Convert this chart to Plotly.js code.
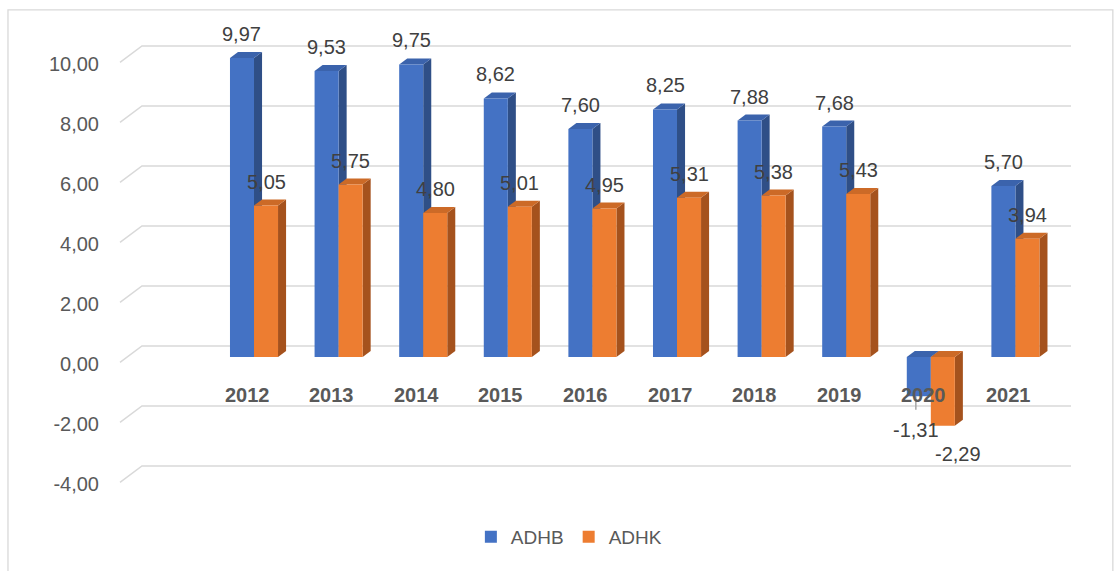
<!DOCTYPE html>
<html>
<head>
<meta charset="utf-8">
<script src="https://cdn.plot.ly/plotly-3.0.1.min.js"></script>
<style>
  html, body { margin: 0; padding: 0; background: #ffffff; }
  #chart { width: 1114px; height: 571px; }
</style>
</head>
<body>
<div id="chart"></div>
<script>
const years = ["2012", "2013", "2014", "2015", "2016", "2017", "2018", "2019", "2020", "2021"];
const adhb = [9.97, 9.53, 9.75, 8.62, 7.60, 8.25, 7.88, 7.68, -1.31, 5.70];
const adhk = [5.05, 5.75, 4.80, 5.01, 4.95, 5.31, 5.38, 5.43, -2.29, 3.94];
const yTicks = [-4, -2, 0, 2, 4, 6, 8, 10];

const FONT = "Liberation Sans, Arial, sans-serif";
const barW = 0.284;
const depthX = 0.095;   // side face depth, x units
const depthY = 0.2;     // side face rise, y units
const backShift = 0.367; // back wall above front plane

function fmt(v) {
    return v.toFixed(2).replace(".", ",");
}

const xs = years.map((_, i) => i);

const series = [
    { name: "ADHB", values: adhb, offset: -barW, front: "#4472C4", side: "#2F4F87", top: "#3B63AC" },
    { name: "ADHK", values: adhk, offset: 0, front: "#ED7D31", side: "#A5521D", top: "#CC6A27" }
];

const traces = series.map((s) => ({
    type: "bar",
    name: s.name,
    x: xs,
    y: s.values,
    width: barW,
    offset: s.offset,
    marker: { color: s.front, line: { width: 0 } },
    hoverinfo: "skip"
}));

const shapes = [];

// chart border
shapes.push({
    type: "rect", xref: "paper", yref: "paper",
    x0: -0.1178, x1: 1.044, y0: -0.1957, y1: 1.0217,
    line: { color: "#d9d9d9", width: 1.3 }, fillcolor: "rgba(0,0,0,0)", layer: "below"
});

// 3D-ish gridlines: slant from front then along back wall
yTicks.forEach((v) => {
    shapes.push({
        type: "path", xref: "paper", yref: "y", layer: "below",
        path: `M0,${v - 0.18} L0.0231,${v + backShift} L1,${v + backShift}`,
        line: { color: "#d9d9d9", width: 1.5 }
    });
});

// side and top faces of each bar
series.forEach((s) => {
    s.values.forEach((v, i) => {
        const xl = i + s.offset;
        const xr = xl + barW;
        const hi = Math.max(v, 0);
        const lo = Math.min(v, 0);
        shapes.push({
            type: "path", xref: "x", yref: "y", layer: "below",
            path: `M${xr},${lo} L${xr},${hi} L${xr + depthX},${hi + depthY} L${xr + depthX},${lo + depthY} Z`,
            fillcolor: s.side, line: { width: 0 }
        });
        shapes.push({
            type: "path", xref: "x", yref: "y", layer: "below",
            path: `M${xl},${hi} L${xr},${hi} L${xr + depthX},${hi + depthY} L${xl + depthX},${hi + depthY} Z`,
            fillcolor: s.top, line: { width: 0 }
        });
    });
});

const annotations = [];

// data labels
series.forEach((s, k) => {
    s.values.forEach((v, i) => {
        const cx = i + s.offset + barW / 2;
        let yshift = 24;
        let xshift = 0;
        if (v < 0) {
            yshift = k === 0 ? -34 : -28;
            xshift = k === 0 ? -3 : 15;
            if (k === 0) {
                // leader line from the bar bottom to the moved label
                shapes.push({
                    type: "line", xref: "x", yref: "y", layer: "above",
                    x0: cx - 0.035, x1: cx - 0.035, y0: v, y1: v - 0.45,
                    line: { color: "#a6a6a6", width: 1.5 }
                });
            }
        }
        annotations.push({
            x: cx, y: v, xref: "x", yref: "y",
            text: fmt(v), showarrow: false,
            xanchor: "center", yanchor: "middle",
            xshift: xshift, yshift: yshift,
            font: { family: FONT, size: 20, color: "#404040" }
        });
    });
});

// category labels sit inside the plot just below zero
years.forEach((yr, i) => {
    annotations.push({
        x: i, y: -1.25, xref: "x", yref: "y",
        text: "<b>" + yr + "</b>", showarrow: false,
        xanchor: "center", yanchor: "middle", xshift: -7,
        font: { family: FONT, size: 20, color: "#595959" }
    });
});

const layout = {
    width: 1114,
    height: 571,
    margin: { l: 120, r: 43, t: 20, b: 81 },
    paper_bgcolor: "#ffffff",
    plot_bgcolor: "#ffffff",
    showlegend: true,
    legend: {
        orientation: "h",
        x: 0.472, xanchor: "center",
        y: -0.1, yanchor: "middle",
        font: { family: FONT, size: 19, color: "#595959" },
        itemwidth: 30,
        traceorder: "normal"
    },
    xaxis: {
        range: [-1.584, 9.657],
        showgrid: false,
        zeroline: false,
        showline: false,
        showticklabels: false,
        fixedrange: true
    },
    yaxis: {
        range: [-4.433, 11.233],
        tickvals: yTicks,
        ticktext: yTicks.map(fmt),
        showgrid: false,
        zeroline: false,
        showline: false,
        ticks: "",
        ticklabelstandoff: 20,
        ticklabelshift: 7,
        tickfont: { family: FONT, size: 20, color: "#595959" },
        fixedrange: true
    },
    shapes: shapes,
    annotations: annotations
};

Plotly.newPlot("chart", traces, layout, { displayModeBar: false, staticPlot: true });
</script>
</body>
</html>
